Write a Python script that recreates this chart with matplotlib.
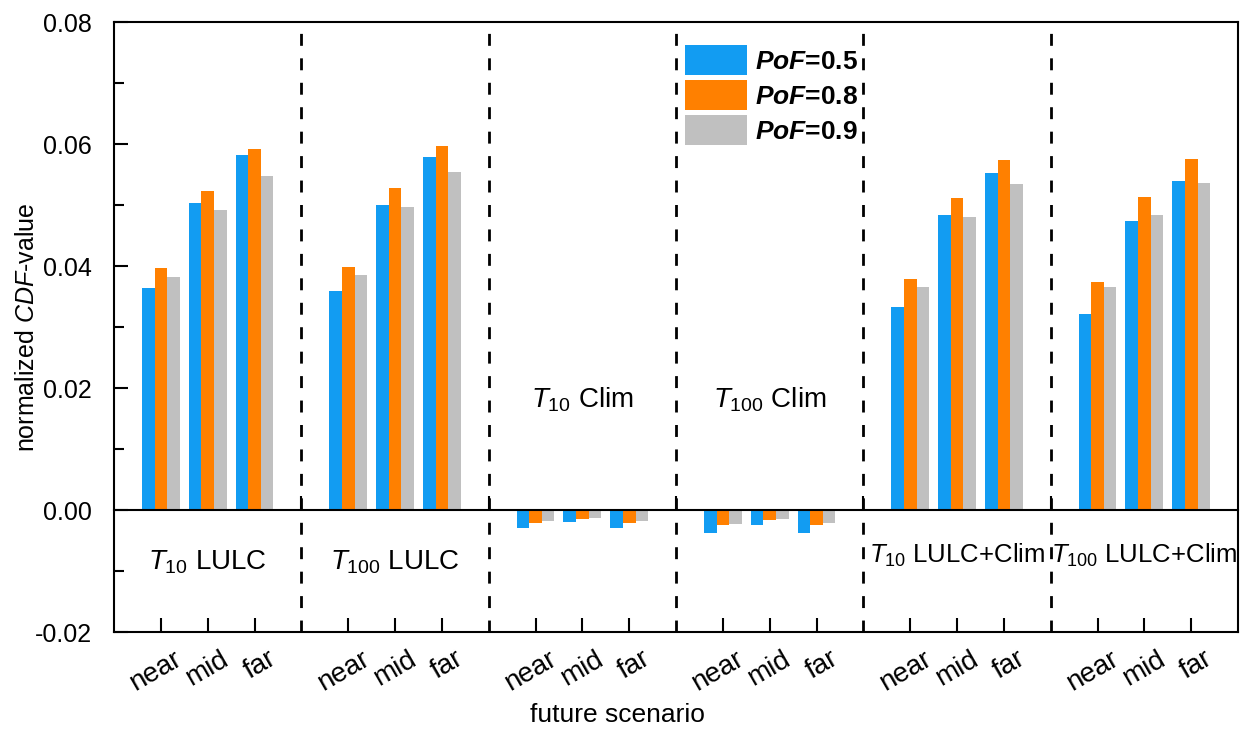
import matplotlib
matplotlib.use("Agg")
import matplotlib.pyplot as plt
from matplotlib.ticker import MultipleLocator, FormatStrFormatter, FixedLocator, NullFormatter
import numpy as np

plt.rcParams['font.family'] = ['Liberation Sans', 'DejaVu Sans']
plt.rcParams['mathtext.fontset'] = 'custom'
plt.rcParams['mathtext.rm'] = 'Liberation Sans'
plt.rcParams['mathtext.it'] = 'Liberation Sans:italic'
plt.rcParams['mathtext.bf'] = 'Liberation Sans:bold'
plt.rcParams['mathtext.bfit'] = 'Liberation Sans:italic:bold'

# data
scenarios = ["near", "mid", "far"]
groups = [r"$\mathit{T}_{\mathit{10}}$ LULC", r"$\mathit{T}_{\mathit{100}}$ LULC",
          r"$\mathit{T}_{\mathit{10}}$ Clim", r"$\mathit{T}_{\mathit{100}}$ Clim",
          r"$\mathit{T}_{\mathit{10}}$ LULC+Clim", r"$\mathit{T}_{\mathit{100}}$ LULC+Clim"]
pof_labels = [r"$\mathbfit{PoF}$=0.5", r"$\mathbfit{PoF}$=0.8", r"$\mathbfit{PoF}$=0.9"]

pof05 = [0.0364, 0.0503, 0.0582,
         0.0359, 0.0500, 0.0579,
         -0.0030, -0.0020, -0.0030,
         -0.0038, -0.0025, -0.0038,
         0.0333, 0.0484, 0.0552,
         0.0321, 0.0474, 0.0539]
pof08 = [0.0397, 0.0523, 0.0592,
         0.0398, 0.0528, 0.0597,
         -0.0022, -0.0015, -0.0022,
         -0.0025, -0.0017, -0.0025,
         0.0379, 0.0511, 0.0574,
         0.0374, 0.0513, 0.0575]
pof09 = [0.0382, 0.0492, 0.0548,
         0.0385, 0.0497, 0.0554,
         -0.0018, -0.0013, -0.0018,
         -0.0023, -0.0015, -0.0022,
         0.0366, 0.0481, 0.0534,
         0.0366, 0.0484, 0.0536]
group_label_y = [-0.0085, -0.0085, 0.018, 0.018, -0.0074, -0.0074]
group_label_size = [20, 20, 20, 20, 18.5, 18.5]

colors = ['#129CF2', '#FF8000', '#C0C0C0']

fig = plt.figure(figsize=(12.42, 7.36), dpi=100)
ax = fig.add_axes([0.0918, 0.1413, 0.9050, 0.8287])

# 4 slots per group: near, mid, far, separator
pos = np.array([4 * g + 1 + k for g in range(len(groups)) for k in range(3)])
w = 0.27
for i, (vals, c, lab) in enumerate(zip([pof05, pof08, pof09], colors, pof_labels)):
    ax.bar(pos + (i - 1) * w, vals, width=w, color=c, label=lab, zorder=2)

seps = [4 * g for g in range(1, len(groups))]
for s in seps:
    ax.axvline(s, color='black', lw=2, linestyle=(0, (4.3, 4.5)), zorder=1)

for g, (name, yy, fs) in enumerate(zip(groups, group_label_y, group_label_size)):
    ax.text(4 * g + 2, yy, name, ha='center', va='center', fontsize=fs)

ax.set_xlim(0, 4 * len(groups))
ax.set_ylim(-0.02, 0.08)
# major ticks mark the bars, minor (invisible) ticks carry the shifted labels
ax.xaxis.set_major_locator(FixedLocator(pos))
ax.xaxis.set_major_formatter(NullFormatter())
ax.xaxis.set_minor_locator(FixedLocator(pos + 0.55))
ax.set_xticklabels(scenarios * len(groups), minor=True, rotation=30, ha='right', va='top', fontsize=20)

ax.yaxis.set_major_locator(MultipleLocator(0.02))
ax.yaxis.set_minor_locator(MultipleLocator(0.01))
ax.yaxis.set_major_formatter(FormatStrFormatter('%.2f'))
ax.tick_params(axis='x', which='major', direction='in', length=10, width=1.5)
ax.tick_params(axis='x', which='minor', length=0, pad=10)
ax.tick_params(axis='y', which='major', direction='in', length=10, width=1.5, pad=16, labelsize=18)
ax.tick_params(axis='y', which='minor', direction='in', length=7, width=1.5)
for sp in ax.spines.values():
    sp.set_linewidth(1.5)

ax.set_ylabel(r"normalized $\mathit{CDF}$-value", fontsize=18, labelpad=-3)
ax.set_xlabel("future scenario", fontsize=19)
ax.xaxis.set_label_coords(0.448, -0.117)

# zero line axis with ticks at the separators
ax2 = ax.twiny()
ax2.set_xlim(ax.get_xlim())
for name in ['top', 'left', 'right']:
    ax2.spines[name].set_visible(False)
ax2.spines['bottom'].set_position(('data', 0))
ax2.spines['bottom'].set_linewidth(1.5)
ax2.xaxis.set_ticks_position('bottom')
ax2.set_xticks(seps)
ax2.tick_params(axis='x', direction='in', length=10, width=1.5, labelbottom=False, labeltop=False)

ax.legend(loc='upper left', bbox_to_anchor=(0.508, 0.962), frameon=False,
          prop={'weight': 'bold', 'size': 19}, borderpad=0, borderaxespad=0,
          handlelength=2.35, handleheight=1.35, labelspacing=0.2, handletextpad=0.3)

fig.savefig("out.png", dpi=100)
